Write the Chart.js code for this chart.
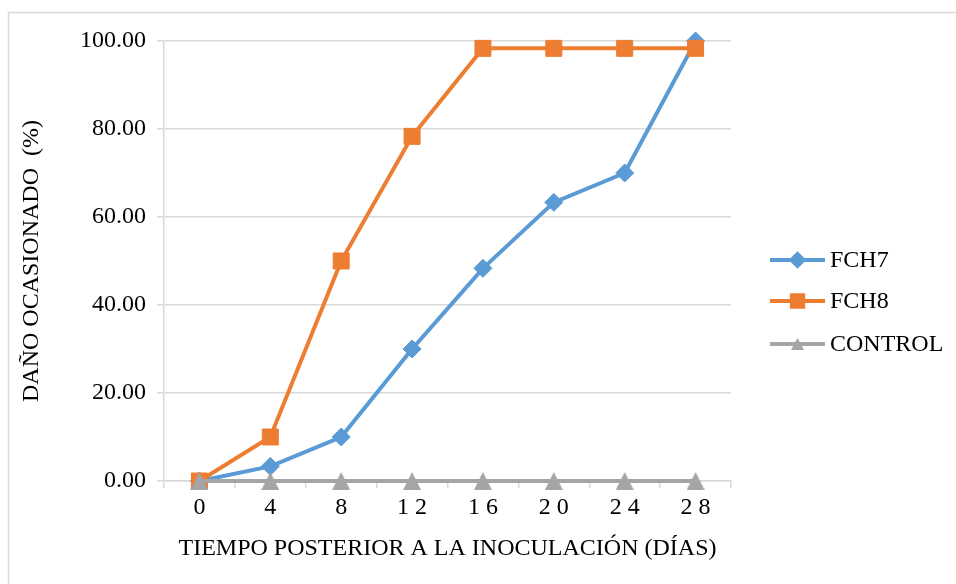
<!DOCTYPE html>
<html>
<head>
<meta charset="utf-8">
<script src="https://cdn.jsdelivr.net/npm/chart.js@4/dist/chart.umd.min.js"></script>
<style>
  html, body { margin: 0; padding: 0; background: #fff; }
  #wrap { width: 956px; height: 584px; }
</style>
</head>
<body>
<div id="wrap"><canvas id="c" width="956" height="584"></canvas></div>
<script>
// Days after inoculation
const days = ['0', '4', '8', '1 2', '1 6', '2 0', '2 4', '2 8'];
// Damage caused (%) per strain
const fch7 = [0, 3.33, 10, 30, 48.33, 63.33, 70, 100];
const fch8 = [0, 10, 50, 78.33, 98.33, 98.33, 98.33, 98.33];
const control = [0, 0, 0, 0, 0, 0, 0, 0];
// Value axis labels
const yTickLabels = ['0.00', '20.00', '40.00', '60.00', '80.00', '100.00'];

const FONT = "'Liberation Serif', 'Times New Roman', serif";
const GRID = '#d9d9d9';
const TEXT = '#000000';
const FS = 24;
const C_FCH7 = '#5b9bd5', C_FCH8 = '#ed7d31', C_CTRL = '#a5a5a5';

// Triangle marker centred on its bounding box
function triangleMarker(w, h, color) {
  const cv = document.createElement('canvas');
  cv.width = w; cv.height = h;
  const g = cv.getContext('2d');
  g.fillStyle = color;
  g.beginPath();
  g.moveTo(w / 2, 0);
  g.lineTo(w, h);
  g.lineTo(0, h);
  g.closePath();
  g.fill();
  return cv;
}
const triBig = triangleMarker(18, 18, C_CTRL);
const triSmall = triangleMarker(13, 12, C_CTRL);

// Thin frame around the whole chart
const framePlugin = {
  id: 'frame',
  beforeDraw(chart) {
    const ctx = chart.ctx;
    ctx.save();
    ctx.fillStyle = '#ffffff';
    ctx.fillRect(0, 0, chart.width, chart.height);
    ctx.strokeStyle = GRID;
    ctx.lineWidth = 1.5;
    ctx.strokeRect(8.5, 12.5, chart.width + 20, chart.height + 20);
    ctx.restore();
  }
};

// Legend with a line segment and marker for each series
const lineLegend = {
  id: 'lineLegend',
  afterDraw(chart) {
    const ctx = chart.ctx;
    const x0 = 770, x1 = 825, tx = 830;
    const ys = [260, 301, 344];
    const styles = ['rectRot', 'rect', triSmall];
    const radii = [6, 8, 7];
    ctx.save();
    chart.data.datasets.forEach((ds, i) => {
      const y = ys[i];
      ctx.strokeStyle = ds.borderColor;
      ctx.lineWidth = 4;
      ctx.beginPath();
      ctx.moveTo(x0, y);
      ctx.lineTo(x1, y);
      ctx.stroke();
      ctx.fillStyle = ds.borderColor;
      ctx.strokeStyle = ds.borderColor;
      Chart.helpers.drawPoint(ctx, {
        pointStyle: styles[i],
        radius: radii[i],
        rotation: 0,
        borderWidth: 1
      }, (x0 + x1) / 2, y);
      ctx.fillStyle = TEXT;
      ctx.font = FS + 'px ' + FONT;
      ctx.textBaseline = 'middle';
      ctx.textAlign = 'left';
      ctx.fillText(ds.label, tx, y + 1);
    });
    ctx.restore();
  }
};

new Chart(document.getElementById('c'), {
  type: 'line',
  data: {
    labels: days,
    datasets: [
      {
        label: 'FCH7',
        data: fch7,
        borderColor: C_FCH7,
        backgroundColor: C_FCH7,
        pointStyle: 'rectRot',
        pointRadius: 9,
        pointBorderWidth: 1,
        borderWidth: 4,
        clip: false,
        order: 3
      },
      {
        label: 'FCH8',
        data: fch8,
        borderColor: C_FCH8,
        backgroundColor: C_FCH8,
        pointStyle: 'rect',
        pointRadius: 11.3,
        pointBorderWidth: 1,
        borderWidth: 4,
        clip: false,
        order: 2
      },
      {
        label: 'CONTROL',
        data: control,
        borderColor: C_CTRL,
        backgroundColor: C_CTRL,
        pointStyle: triBig,
        pointRadius: 9,
        pointBorderWidth: 0,
        borderWidth: 4,
        clip: false,
        order: 1
      }
    ]
  },
  options: {
    responsive: false,
    animation: false,
    devicePixelRatio: 1,
    layout: { padding: { top: 41, right: 225, left: 0, bottom: 0 } },
    elements: { line: { tension: 0 } },
    plugins: {
      legend: { display: false },
      tooltip: { enabled: false }
    },
    scales: {
      x: {
        type: 'category',
        offset: true,
        afterFit(s) { s.height = 103; },
        grid: {
          offset: true,
          drawOnChartArea: false,
          drawTicks: true,
          tickLength: 7,
          color: GRID,
          lineWidth: 1.5
        },
        border: { color: GRID, width: 1.5 },
        ticks: {
          color: TEXT,
          font: { family: FONT, size: FS },
          padding: 5,
          maxRotation: 0
        },
        title: {
          display: true,
          text: 'TIEMPO POSTERIOR A LA INOCULACIÓN (DÍAS)',
          color: TEXT,
          font: { family: FONT, size: FS },
          padding: { top: 0, bottom: 21 }
        }
      },
      y: {
        min: 0,
        max: 100,
        afterFit(s) { s.width = 164; },
        grid: {
          color: GRID,
          lineWidth: 1.5,
          drawTicks: true,
          tickLength: 7
        },
        border: { color: GRID, width: 1.5 },
        ticks: {
          stepSize: 20,
          color: TEXT,
          font: { family: FONT, size: FS },
          padding: 11,
          callback: (v) => yTickLabels[Math.round(v / 20)]
        },
        title: {
          display: true,
          text: 'DAÑO OCASIONADO  (%)',
          color: TEXT,
          font: { family: FONT, size: FS },
          padding: { top: 17, bottom: 0 }
        }
      }
    }
  },
  plugins: [framePlugin, lineLegend]
});
</script>
</body>
</html>
